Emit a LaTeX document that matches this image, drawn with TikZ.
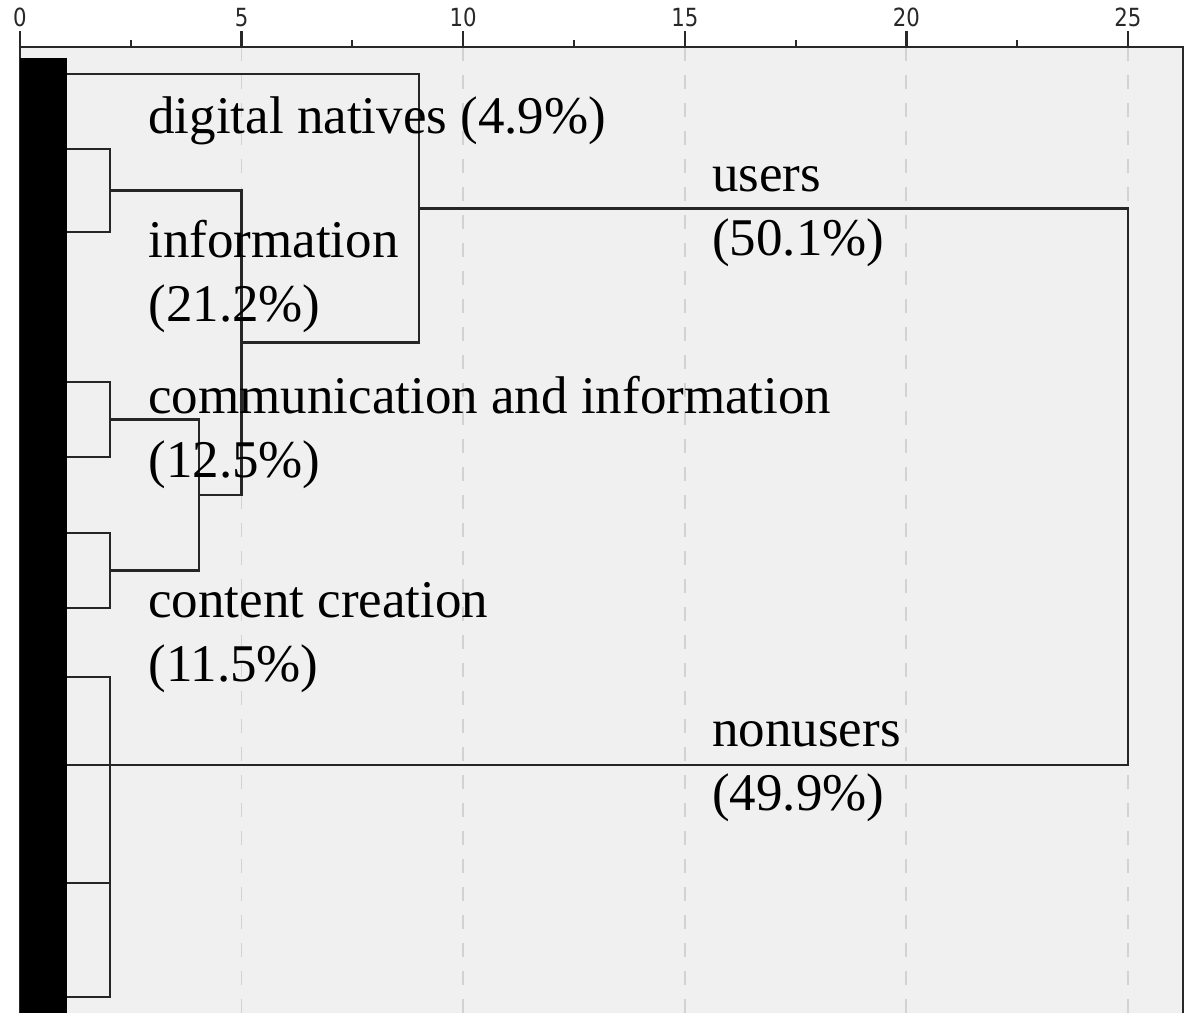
\documentclass[tikz,border=0pt]{standalone}
\usepackage{fontspec}
\setmainfont{Liberation Serif}
\newfontfamily\axisfont[FakeStretch=0.85]{DejaVu Sans}
\usepackage{xcolor}
\definecolor{panel}{HTML}{F0F0F0}
\definecolor{gridgray}{HTML}{D2D2D2}
\definecolor{axisgray}{HTML}{282828}

\begin{document}
\begin{tikzpicture}[x=22.16pt, y=-0.5pt,
  every node/.style={font=\fontsize{26.5}{32}\selectfont, inner sep=0pt},
  link/.style={line width=1.3pt, draw=black!85},
  group/.style={anchor=base west, align=left},
  ticklabel/.style={anchor=base, text=axisgray, font=\axisfont\fontsize{12.5}{14}\selectfont}]

  \useasboundingbox (-0.4513,0) rectangle (26.354,1013);
  % Panel and grid
  \fill[panel] (0,47) rectangle (26.24,1013);
  \foreach \t in {5,10,...,25}
    \draw[gridgray, line width=0.9pt, dash pattern=on 7pt off 7pt] (\t,47) -- (\t,1013);

  % Axis with ticks
  \draw[axisgray, line width=1.2pt] (0,1013) -- (0,47) -- (26.24,47) -- (26.24,1013);
  \foreach \t in {0,5,...,25}
    \draw[axisgray, line width=1.2pt] (\t,47) -- (\t,31) node[ticklabel] (tick\t) at (\t,26) {\t};
  \foreach \t in {2.5,7.5,...,22.5}
    \draw[axisgray, line width=1pt] (\t,47) -- (\t,40);

  % Leaf bar
  \fill[black] (0,58) rectangle (1.06,1013);

  % Leaves and merge points
  \foreach \y [count=\i] in {74,149,232,382,457,533,608,677,765,883,997}
    \coordinate (leaf\i) at (1.06,\y);
  \coordinate (mA) at (2.03,190.5);
  \coordinate (mB) at (2.03,419.5);
  \coordinate (mC) at (2.03,570.5);
  \coordinate (mBC) at (4.04,495);
  \coordinate (mABC) at (5.0,342.75);
  \coordinate (musers) at (9.0,208.4);
  \coordinate (mnon) at (2.03,837);
  \coordinate (mall) at (25.0,486.7);

  % Links
  \draw[link] (leaf2) -| (mA) |- (leaf3);
  \draw[link] (leaf4) -| (mB) |- (leaf5);
  \draw[link] (leaf6) -| (mC) |- (leaf7);
  \draw[link] (mB) -| (mBC) |- (mC);
  \draw[link] (mA) -| (mABC) |- (mBC);
  \draw[link] (leaf1) -| (musers) |- (mABC);
  \draw[link] (leaf8) -| (mnon) |- (leaf11);
  \draw[link] (leaf10) -- (leaf10 -| mnon);
  \draw[link] (musers) -| (mall) |- (leaf9);

  % Group labels (base = last line)
  \node[group] (natives) at (2.888,133) {digital natives (4.9\%)};
  \node[group] (info) at (2.888,321) {information\\(21.2\%)};
  \node[group] (comm) at (2.888,477) {communication and information\\(12.5\%)};
  \node[group] (content) at (2.888,681) {content creation\\(11.5\%)};
  \node[group] (users) at (15.61,255) {users\\(50.1\%)};
  \node[group] (nonusers) at (15.61,810) {nonusers\\(49.9\%)};
\end{tikzpicture}
\end{document}
